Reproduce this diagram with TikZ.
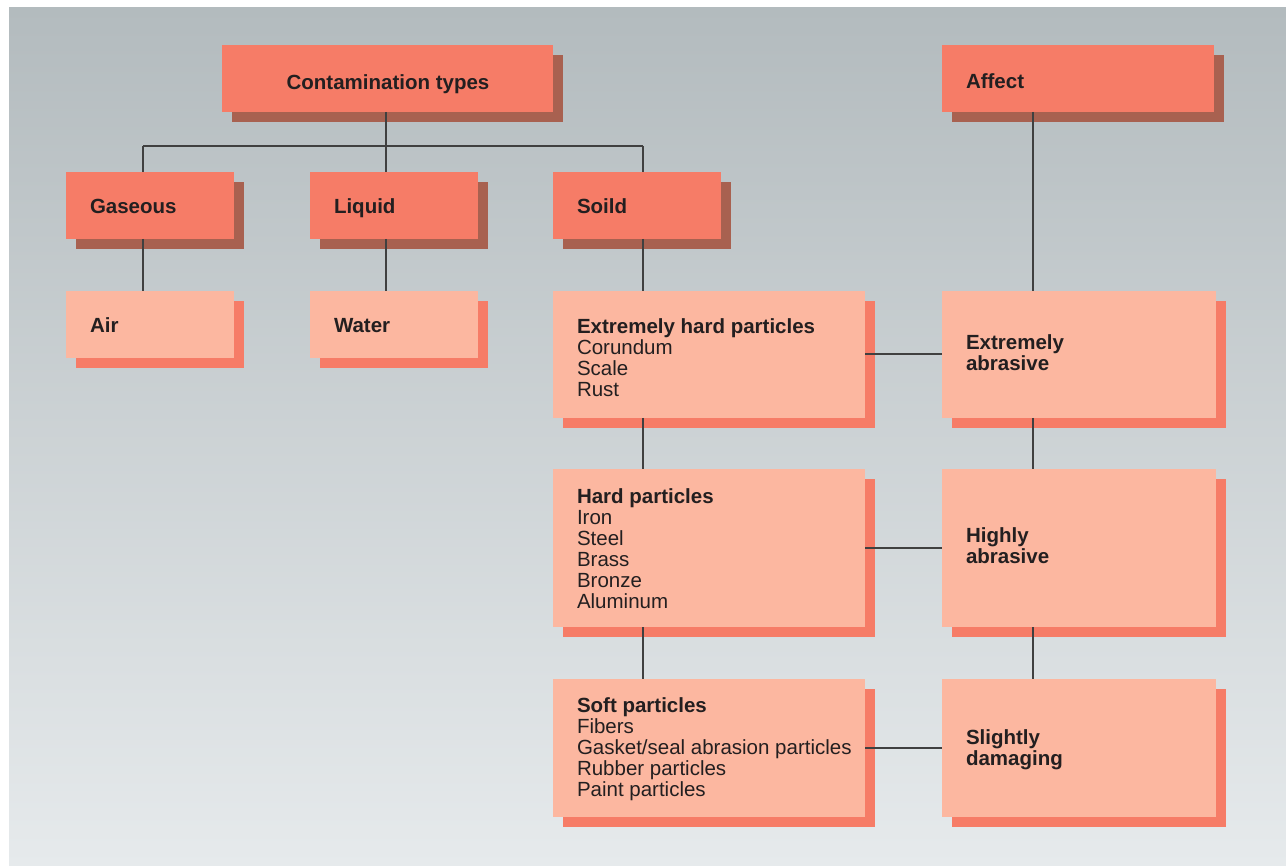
\documentclass[tikz,border=0pt]{standalone}
\usepackage{fontspec}
\setmainfont{Liberation Sans}
\usetikzlibrary{shadows,calc}
\definecolor{bgtop}{HTML}{B3BBBE}
\definecolor{bgbot}{HTML}{E6EAEC}
\definecolor{headfill}{HTML}{F67C67}
\definecolor{headshadow}{HTML}{A86150}
\definecolor{itemfill}{HTML}{FCB7A0}
\definecolor{itemshadow}{HTML}{F67C67}
\definecolor{inkcol}{HTML}{231F20}
\definecolor{linkcol}{HTML}{404040}
\begin{document}
\begin{tikzpicture}[x=1pt,y=-1pt,
  basebox/.style={rectangle, inner sep=0pt, outer sep=0pt, anchor=north west},
  headbox/.style={basebox, fill=headfill,
    general shadow={shadow xshift=10pt, shadow yshift=-10pt, fill=headshadow}},
  itembox/.style={basebox, fill=itemfill,
    general shadow={shadow xshift=10pt, shadow yshift=-10pt, fill=itemshadow}},
  boxtext/.style={inner sep=0pt, outer sep=0pt, anchor=north west, align=left,
    text=inkcol, font=\fontsize{20.5}{21}\selectfont,
    execute at begin node={\rule{0pt}{15pt}}},
  headtext/.style={boxtext, font=\fontsize{20.5}{21}\selectfont\bfseries},
  link/.style={draw=linkcol, line width=1.3pt}
]
% page and backdrop
\useasboundingbox (0,0) rectangle (1286,866);
\fill[white] (0,0) rectangle (1286,866);
\shade[top color=bgtop, bottom color=bgbot] (9,8) rectangle (1286,866);

% header boxes
\node[headbox, minimum width=331pt, minimum height=67pt] (ct) at (222,45) {};
\node[headbox, minimum width=272pt, minimum height=67pt] (aff) at (942,45) {};
\node[headbox, minimum width=168pt, minimum height=67pt] (gas) at (66,172) {};
\node[headbox, minimum width=168pt, minimum height=67pt] (liq) at (310,172) {};
\node[headbox, minimum width=168pt, minimum height=67pt] (sol) at (553,172) {};

% item boxes
\node[itembox, minimum width=168pt, minimum height=67pt] (air) at (66,291) {};
\node[itembox, minimum width=168pt, minimum height=67pt] (wat) at (310,291) {};
\node[itembox, minimum width=312pt, minimum height=127pt] (ehp) at (553,291) {};
\node[itembox, minimum width=274pt, minimum height=127pt] (eab) at (942,291) {};
\node[itembox, minimum width=312pt, minimum height=158pt] (hp) at (553,469) {};
\node[itembox, minimum width=274pt, minimum height=158pt] (hab) at (942,469) {};
\node[itembox, minimum width=312pt, minimum height=138pt] (sp) at (553,679) {};
\node[itembox, minimum width=274pt, minimum height=138pt] (sd) at (942,679) {};

% connector guide points
\coordinate (busC) at (386,146);
\coordinate (busL) at (143,146);
\coordinate (busR) at (643,146);
\coordinate (colR) at (1033,0);

% tree of contamination types
\draw[link] (busC |- ct.south) -- (busC);
\draw[link] (busL) -- (busR);
\draw[link] (busL) -- (busL |- gas.north);
\draw[link] (busC) -- (busC |- liq.north);
\draw[link] (busR) -- (busR |- sol.north);
\draw[link] (busL |- gas.south) -- (busL |- air.north);
\draw[link] (busC |- liq.south) -- (busC |- wat.north);
\draw[link] (busR |- sol.south) -- (busR |- ehp.north);
\draw[link] (busR |- ehp.south) -- (busR |- hp.north);
\draw[link] (busR |- hp.south) -- (busR |- sp.north);

% affect column
\draw[link] (colR |- aff.south) -- (colR |- eab.north);
\draw[link] (colR |- eab.south) -- (colR |- hab.north);
\draw[link] (colR |- hab.south) -- (colR |- sd.north);

% particle class to effect
\draw[link] (ehp.east |- 0,354) -- (eab.west |- 0,354);
\draw[link] (hp.east |- 0,548) -- (hab.west |- 0,548);
\draw[link] (sp.east |- 0,748) -- (sd.west |- 0,748);

% box texts
\node[headtext, anchor=north] (ctT) at ($(ct.north)+(0.5,29.3)$) {Contamination types};
\node[headtext] (affT) at ($(aff.north west)+(24,29)$) {Affect};
\node[headtext] (gasT) at ($(gas.north west)+(24,27)$) {Gaseous};
\node[headtext] (liqT) at ($(liq.north west)+(24,27)$) {Liquid};
\node[headtext] (solT) at ($(sol.north west)+(24,27)$) {Soild};
\node[headtext] (airT) at ($(air.north west)+(24,26.3)$) {Air};
\node[headtext] (watT) at ($(wat.north west)+(24,26.3)$) {Water};
\node[boxtext] (ehpT) at ($(ehp.north west)+(24,27.3)$)
  {\textbf{Extremely hard particles}\\Corundum\\Scale\\Rust};
\node[headtext] (eabT) at ($(eab.north west)+(24,43.3)$) {Extremely\\abrasive};
\node[boxtext] (hpT) at ($(hp.north west)+(24,20)$)
  {\textbf{Hard particles}\\Iron\\Steel\\Brass\\Bronze\\Aluminum};
\node[headtext] (habT) at ($(hab.north west)+(24,58.3)$) {Highly\\abrasive};
\node[boxtext] (spT) at ($(sp.north west)+(24,18.7)$)
  {\textbf{Soft particles}\\Fibers\\Gasket/seal abrasion particles\\Rubber particles\\Paint particles};
\node[headtext] (sdT) at ($(sd.north west)+(24,50.3)$) {Slightly\\damaging};
\end{tikzpicture}
\end{document}
